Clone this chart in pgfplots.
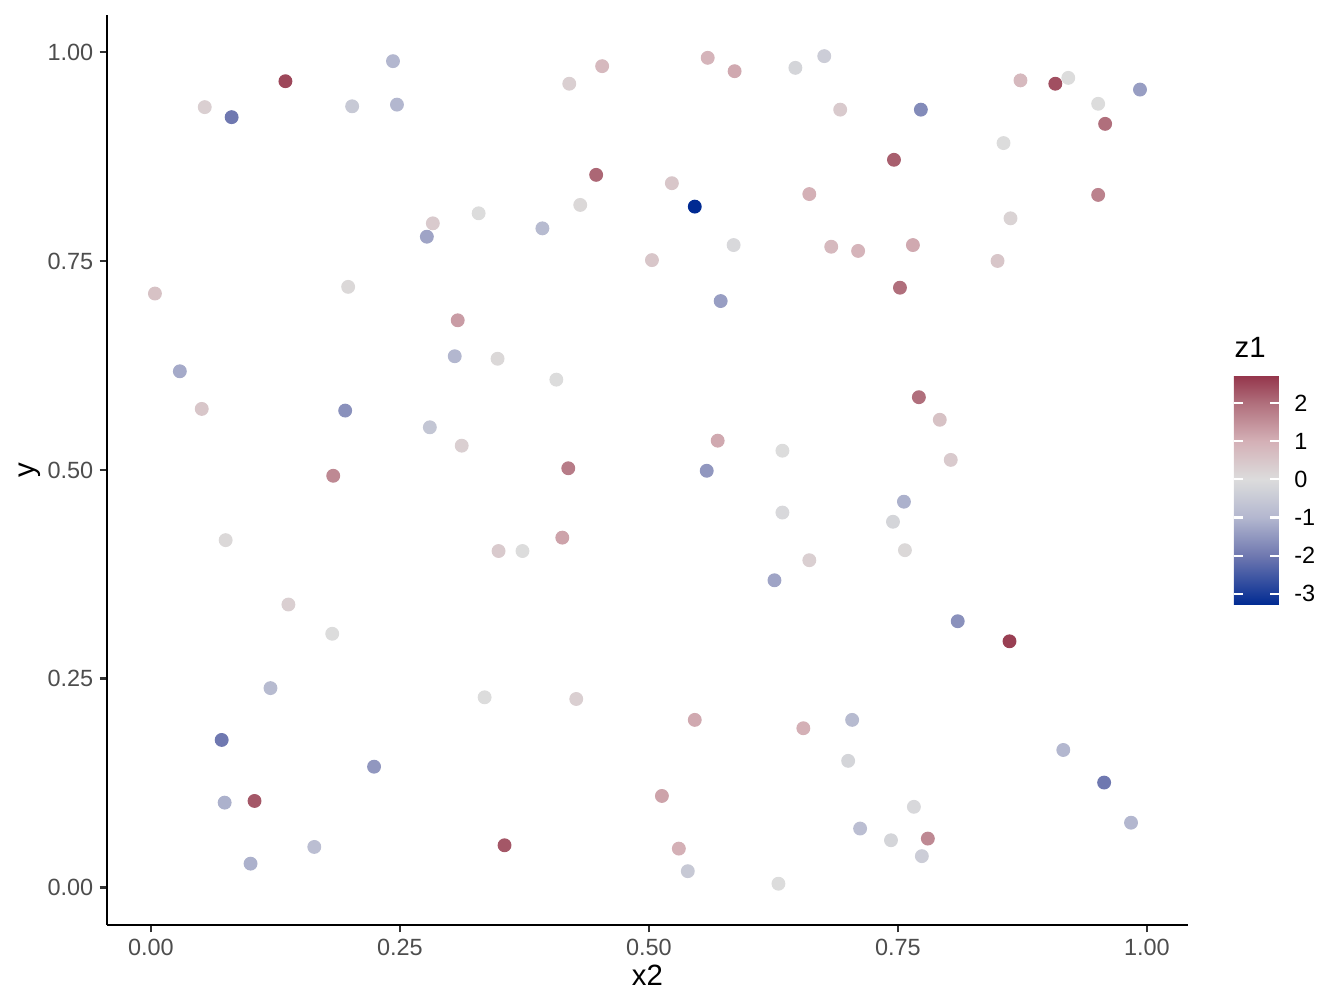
\documentclass[border=0pt]{standalone}
\usepackage{fontspec}
\setmainfont{Liberation Sans}
\usepackage{pgfplots}
\pgfplotsset{compat=1.18}
\usepackage{pgfplotstable}
\definecolor{ticktext}{HTML}{4D4D4D}
\definecolor{tickline}{HTML}{333333}
\pgfplotstableread{
x y z
0.004 0.711 0.6
0.054 0.934 0.3
0.081 0.922 -2.0
0.135 0.965 2.5
0.202 0.935 -0.5
0.243 0.989 -1.0
0.247 0.937 -1.0
0.283 0.795 0.4
0.277 0.779 -1.3
0.329 0.807 0.0
0.308 0.679 1.3
0.029 0.618 -1.2
0.051 0.573 0.5
0.198 0.719 0.1
0.305 0.636 -1.0
0.348 0.633 0.1
0.195 0.571 -1.6
0.280 0.551 -0.6
0.312 0.529 0.3
0.183 0.493 1.6
0.075 0.416 0.1
0.138 0.339 0.3
0.182 0.304 0.0
0.120 0.239 -0.9
0.071 0.177 -2.0
0.074 0.102 -1.1
0.104 0.104 2.3
0.100 0.029 -1.1
0.164 0.049 -0.8
0.224 0.145 -1.5
0.335 0.228 0.0
0.355 0.051 2.3
0.349 0.403 0.4
0.373 0.403 0.0
0.413 0.419 1.2
0.419 0.502 1.8
0.407 0.608 0.0
0.393 0.789 -0.9
0.431 0.817 0.1
0.447 0.853 2.1
0.420 0.962 0.3
0.453 0.983 0.8
0.523 0.843 0.5
0.546 0.815 -3.29
0.503 0.751 0.5
0.559 0.993 0.9
0.586 0.977 1.1
0.585 0.769 -0.1
0.572 0.702 -1.4
0.647 0.981 -0.2
0.676 0.995 -0.4
0.692 0.931 0.4
0.661 0.830 1.0
0.683 0.767 0.8
0.710 0.762 0.9
0.746 0.871 2.2
0.773 0.931 -1.7
0.765 0.769 1.1
0.752 0.718 2.0
0.856 0.891 0.0
0.873 0.966 0.8
0.908 0.962 2.4
0.921 0.969 0.0
0.951 0.938 0.0
0.958 0.914 2.0
0.993 0.955 -1.4
0.863 0.801 0.2
0.850 0.750 0.5
0.951 0.829 1.7
0.771 0.587 2.0
0.792 0.560 0.6
0.803 0.512 0.4
0.756 0.462 -1.1
0.745 0.438 -0.2
0.757 0.404 0.1
0.569 0.535 1.1
0.558 0.499 -1.5
0.634 0.523 0.0
0.634 0.449 -0.1
0.661 0.392 0.3
0.626 0.368 -1.3
0.810 0.319 -1.6
0.862 0.295 2.6
0.704 0.201 -0.9
0.700 0.152 -0.2
0.546 0.201 1.1
0.655 0.191 1.0
0.513 0.110 1.2
0.530 0.047 1.0
0.539 0.020 -0.5
0.630 0.005 0.0
0.712 0.071 -0.8
0.743 0.057 -0.2
0.780 0.059 1.6
0.774 0.038 -0.4
0.766 0.097 -0.1
0.916 0.165 -1.0
0.957 0.126 -2.0
0.984 0.078 -1.0
0.427 0.226 0.3
}\pts
\begin{document}
\begin{tikzpicture}
\path[use as bounding box] (-40.1pt,-31.1pt) rectangle (463.9pt,346.85pt);
\begin{axis}[
  at={(0,0)}, anchor=south west,
  scale only axis, width=405.4pt, height=341.25pt,
  xmin=-0.0442, xmax=1.0412, ymin=-0.0443, ymax=1.0443,
  axis lines*=left,
  axis line style={black, line width=1.07pt},
  xtick={0,0.25,0.5,0.75,1}, ytick={0,0.25,0.5,0.75,1},
  xticklabels={0.00,0.25,0.50,0.75,1.00},
  yticklabels={0.00,0.25,0.50,0.75,1.00},
  tick align=outside, major tick length=2.75pt,
  major tick style={tickline, line width=1.07pt},
  ticklabel style={font=\fontsize{8.8}{10}\selectfont, text=ticktext},
  xticklabel style={inner sep=0pt, yshift=-2.2pt},
  yticklabel style={inner sep=0pt, xshift=-2.2pt},
  xlabel={x2}, ylabel={y},
  label style={font=\fontsize{11}{13}\selectfont},
  xlabel style={at={(axis description cs:0.5,0)}, anchor=center, yshift=-18.75pt},
  ylabel style={at={(axis description cs:0,0.5)}, anchor=center, rotate=0, yshift=28.9pt},
  colormap={zmap}{rgb255(0pt)=(0,42,146); rgb255(1.29pt)=(111,120,176); rgb255(2.29pt)=(179,183,207); rgb255(3.29pt)=(220,220,220); rgb255(4.29pt)=(212,176,182); rgb255(5.29pt)=(176,111,124); rgb255(6.02pt)=(148,52,74)},
  point meta min=-3.29, point meta max=2.73,
  colorbar right,
  colorbar/width=16.9pt,
  colorbar style={
    scale only axis,
    width=16.9pt, height=86.25pt,
    at={(parent axis.south east)}, anchor=west,
    xshift=8.65pt, yshift=163.1pt,
    ytick={-3,-2,-1,0,1,2},
    yticklabels={-3,-2,-1,0,1,2},
    ytick pos=both, yticklabel pos=right,
    tick align=inside, major tick length=3.4pt,
    major tick style={white, line width=0.8pt},
    axis line style={draw=none},
    yticklabel style={font=\fontsize{8.8}{10}\selectfont, text=black, inner sep=0pt, xshift=5.6pt, anchor=west},
    title={z1}, title style={font=\fontsize{11}{13}\selectfont, anchor=south west, at={(0,1)}, yshift=-2.9pt, xshift=-3.25pt},
  },
]
\addplot[scatter, only marks, mark=*, mark size=2.4pt, scatter src=explicit,
  scatter/use mapped color={draw=mapped color, fill=mapped color}]
  table[x=x, y=y, meta=z] {\pts};
\end{axis}
\end{tikzpicture}
\end{document}
